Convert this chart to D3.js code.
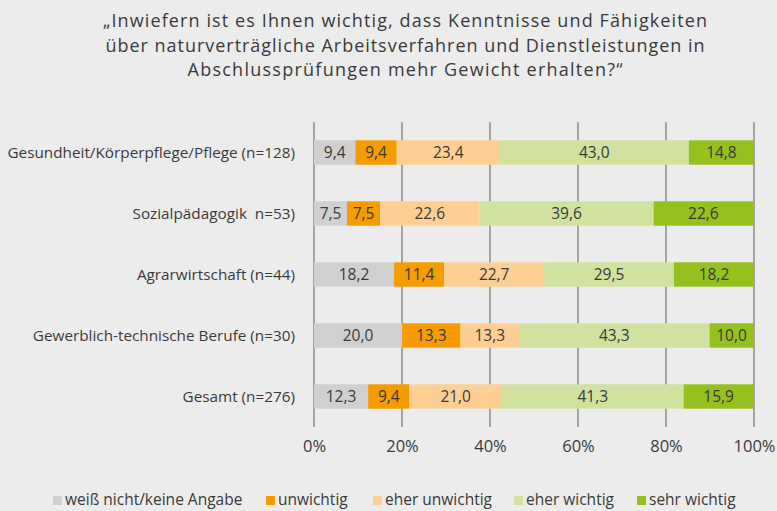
<!DOCTYPE html>
<html>
<head>
<meta charset="utf-8">
<script src="https://cdn.jsdelivr.net/npm/d3@7"></script>
<style>
  html, body { margin: 0; padding: 0; background: #ececec; }
  svg { display: block; font-family: "Open Sans", "Noto Sans", sans-serif; }
  svg text { white-space: pre; }
</style>
</head>
<body>
<svg id="chart" width="777" height="511"></svg>
<script>
// Survey categories (rows, top to bottom)
const categories = [
  "Gesundheit/Körperpflege/Pflege (n=128)",
  "Sozialpädagogik  n=53)",
  "Agrarwirtschaft (n=44)",
  "Gewerblich-technische Berufe (n=30)",
  "Gesamt (n=276)"
];

// Answer options (stack order, left to right)
const seriesNames = [
  "weiß nicht/keine Angabe",
  "unwichtig",
  "eher unwichtig",
  "eher wichtig",
  "sehr wichtig"
];

// Percentages per answer option, one value per category
const weissNicht    = [9.4, 7.5, 18.2, 20.0, 12.3];
const unwichtig     = [9.4, 7.5, 11.4, 13.3, 9.4];
const eherUnwichtig = [23.4, 22.6, 22.7, 13.3, 21.0];
const eherWichtig   = [43.0, 39.6, 29.5, 43.3, 41.3];
const sehrWichtig   = [14.8, 22.6, 18.2, 10.0, 15.9];

const tickValues = [0, 20, 40, 60, 80, 100];

const titleLines = [
  "\u201EInwiefern ist es Ihnen wichtig, dass Kenntnisse und Fähigkeiten",
  "über naturverträgliche Arbeitsverfahren und Dienstleistungen in",
  "Abschlussprüfungen mehr Gewicht erhalten?\u201C"
];
// rendered width of each title line
const titleWidths = [604, 599, 435];

const colors = ["#d0d0d0", "#f59c00", "#fdcf94", "#d0e1a0", "#95c11f"];
const textColor = "#3a3a3a";

const seriesValues = [weissNicht, unwichtig, eherUnwichtig, eherWichtig, sehrWichtig];
const rows = categories.map((c, i) => {
  const r = { category: c };
  seriesNames.forEach((s, k) => { r[s] = seriesValues[k][i]; });
  return r;
});

const svg = d3.select("#chart");

// Title
svg.append("g")
  .selectAll("text")
  .data(titleLines)
  .join("text")
  .attr("x", 405)
  .attr("y", (d, i) => 27 + i * 24.5)
  .attr("text-anchor", "middle")
  .attr("font-size", 18)
  .attr("textLength", (d, i) => titleWidths[i])
  .attr("lengthAdjust", "spacing")
  .attr("fill", textColor)
  .text(d => d);

const x = d3.scaleLinear().domain([0, 100]).range([314, 754]);
const y = d3.scaleBand().domain(categories).range([122, 427])
  .paddingInner(0.6).paddingOuter(0.3);

// Vertical grid lines
svg.append("g")
  .selectAll("line")
  .data(tickValues)
  .join("line")
  .attr("x1", d => x(d)).attr("x2", d => x(d))
  .attr("y1", 122).attr("y2", 427)
  .attr("stroke", "#8c8c8c")
  .attr("stroke-width", 1.5);

// Bottom axis labels
const xAxis = d3.axisBottom(x)
  .tickValues(tickValues)
  .tickFormat(d => d + "%")
  .tickSize(0)
  .tickPadding(0);
const axG = svg.append("g").attr("transform", "translate(0,446)").call(xAxis);
axG.select(".domain").remove();
axG.selectAll("text")
  .attr("font-size", 16.5)
  .attr("font-family", "\"Open Sans\", sans-serif")
  .attr("fill", textColor)
  .attr("dy", "0.35em");

// Category labels
svg.append("g")
  .selectAll("text")
  .data(categories)
  .join("text")
  .attr("x", 295)
  .attr("y", d => y(d) + y.bandwidth() / 2)
  .attr("dy", "0.35em")
  .attr("text-anchor", "end")
  .attr("font-size", 15.3)
  .attr("fill", textColor)
  .text(d => d);

// Stacked bars
const stacked = d3.stack().keys(seriesNames)(rows);

const layers = svg.append("g")
  .selectAll("g")
  .data(stacked)
  .join("g")
  .attr("fill", (d, i) => colors[i]);

layers.selectAll("rect")
  .data(d => d)
  .join("rect")
  .attr("x", d => x(d[0]))
  .attr("width", d => x(d[1]) - x(d[0]))
  .attr("y", d => y(d.data.category))
  .attr("height", y.bandwidth());

layers.selectAll("text")
  .data(d => d.map(p => ({ p, key: d.key })))
  .join("text")
  .attr("x", d => (x(d.p[0]) + x(d.p[1])) / 2)
  .attr("y", d => y(d.p.data.category) + y.bandwidth() / 2)
  .attr("dy", "0.35em")
  .attr("text-anchor", "middle")
  .attr("font-size", 15.5)
  .attr("fill", textColor)
  .text(d => d3.format(".1f")(d.p.data[d.key]).replace(".", ","));

// Legend
const legendX = [53, 266, 373, 514, 637];
const legend = svg.append("g")
  .selectAll("g")
  .data(seriesNames)
  .join("g")
  .attr("transform", (d, i) => `translate(${legendX[i]},500)`);
legend.append("rect")
  .attr("x", 0).attr("y", -4)
  .attr("width", 9).attr("height", 9)
  .attr("fill", (d, i) => colors[i]);
legend.append("text")
  .attr("x", 12)
  .attr("dy", "0.35em")
  .attr("font-size", 15.5)
  .attr("fill", textColor)
  .text(d => d);
</script>
</body>
</html>
